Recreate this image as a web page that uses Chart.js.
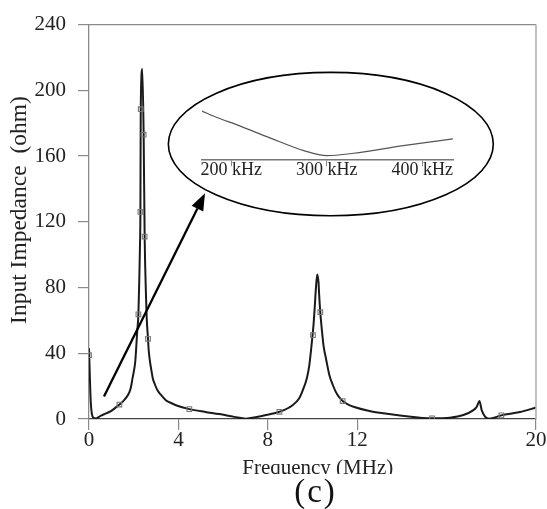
<!DOCTYPE html>
<html><head><meta charset="utf-8">
<script src="https://cdn.jsdelivr.net/npm/chart.js@4/dist/chart.umd.min.js"></script>
<style>
html,body{margin:0;padding:0;background:#fff;}
#wrap{position:relative;width:547px;height:509px;overflow:hidden;background:#fff;}
canvas{position:absolute;left:0;top:0;}
#inset{pointer-events:none;}
#cap{position:absolute;left:89px;top:474px;width:453px;height:35px;background:#fff;text-align:center;font-family:"Liberation Serif";font-size:33px;line-height:34px;color:#111;letter-spacing:2px;}
</style></head><body>
<div id="wrap"><canvas id="main" width="547" height="509" style="width:547px;height:509px"></canvas><canvas id="inset" width="547" height="509" style="width:547px;height:509px"></canvas><div id="cap">(c)</div></div>
<script>
// Main curve: frequency (MHz) and input impedance (ohm)
const freq = [0,0.04,0.08,0.13,0.2,0.3,0.5,0.76,1.0,1.36,1.45,1.6,1.73,1.85,1.9,1.95,2.0,2.07,2.12,2.15,2.21,2.25,2.28,2.30,2.315,2.385,2.445,2.49,2.55,2.58,2.64,2.67,2.70,2.75,2.8,2.85,2.95,3.07,3.2,3.45,3.6,3.89,4.49,5.2,5.83,6.5,7.02,7.5,7.92,8.52,9.11,9.4,9.56,9.75,9.86,10.0,10.05,10.1,10.15,10.21,10.27,10.3,10.35,10.45,10.5,10.6,10.75,10.9,11.1,11.35,11.6,11.87,12.5,13,14,15.35,16.15,16.75,17.2,17.35,17.47,17.57,17.72,17.9,18.45,19.28,20];
const impedance = [43,25,10,3,0.8,0.3,1.8,3.4,5,8.8,9.8,12,14.3,18,21,25,28.5,35,45,52,63.7,85,105,126,188.5,213,173,111,75,62,48.8,42,38,33,29,25,21,17.3,15,11.3,10.2,8.4,6,4.3,3,1.3,0.2,1.2,2.4,4.4,8.4,12.5,17.3,25,33,50.7,58,68,79,88,83,75,64.7,50,44,37,27,21,15,10.9,8.8,7.3,5,3.8,2,0.4,0.8,2.4,5.4,7.5,10.9,5.4,1.4,0.2,2.2,4.2,7.0];
// Square markers on the curve
const markerFreq = [0,1.36,2.21,2.30,2.315,2.445,2.49,2.64,4.49,8.52,10.02,10.35,11.35,15.35,18.45];
const markerImp = [38.8,8.8,63.7,126,188.5,173,111,48.8,6,4.4,51,65,10.9,0.4,2.2];
// Axis ticks
const xTicks = [0,4,8,12,20];
const yTicks = [0,40,80,120,160,200,240];
// Inset (zoom of 200-400 kHz region), relative impedance units
const insetFreq = [169.3,185,206,241,276,300,328,380,432];
const insetVal = [0.89,0.77,0.635,0.39,0.159,0.067,0.111,0.252,0.376];
const insetTicks = [200,300,400];
// Annotation: ellipse (center, radii in data units) and arrow (data units)
const ellipseCenter = [10.82,167.3];
const ellipseRadii = [7.27,43.6];
const arrowFrom = [0.67,13.7];
const arrowTo = [5.19,137.3];

const serif = 'Liberation Serif';

const framePlugin = {
  id:'frame',
  afterDatasetsDraw(chart){
    const {ctx, chartArea:a, scales:{x,y}} = chart;
    ctx.save();
    ctx.strokeStyle = '#8a8a8a'; ctx.lineWidth = 1.2;
    ctx.beginPath(); ctx.moveTo(a.left, a.top); ctx.lineTo(a.right, a.top); ctx.stroke();
    ctx.strokeStyle = '#b0b0b0'; ctx.lineWidth = 1.6;
    ctx.beginPath(); ctx.moveTo(a.right, a.top); ctx.lineTo(a.right, a.bottom); ctx.stroke();
    const cx = x.getPixelForValue(ellipseCenter[0]), cy = y.getPixelForValue(ellipseCenter[1]);
    const rx = x.getPixelForValue(ellipseCenter[0]+ellipseRadii[0]) - cx;
    const ry = cy - y.getPixelForValue(ellipseCenter[1]+ellipseRadii[1]);
    ctx.strokeStyle = '#000'; ctx.lineWidth = 1.6;
    ctx.beginPath(); ctx.ellipse(cx, cy, rx, ry, 0, 0, Math.PI*2); ctx.stroke();
    const x0 = x.getPixelForValue(arrowFrom[0]), y0 = y.getPixelForValue(arrowFrom[1]);
    const x1 = x.getPixelForValue(arrowTo[0]), y1 = y.getPixelForValue(arrowTo[1]);
    const ang = Math.atan2(y1-y0, x1-x0), L = 17, W = 6.5;
    const bx = x1 - L*Math.cos(ang), by = y1 - L*Math.sin(ang);
    ctx.lineWidth = 2.3;
    ctx.beginPath(); ctx.moveTo(x0,y0); ctx.lineTo(bx,by); ctx.stroke();
    ctx.fillStyle = '#000';
    ctx.beginPath();
    ctx.moveTo(x1,y1);
    ctx.lineTo(bx + W*Math.sin(ang), by - W*Math.cos(ang));
    ctx.lineTo(bx - W*Math.sin(ang), by + W*Math.cos(ang));
    ctx.closePath(); ctx.fill();
    ctx.restore();
  }
};

new Chart(document.getElementById('main'), {
  type:'line',
  data:{datasets:[
    {data: markerFreq.map((f,i)=>({x:f,y:markerImp[i]})), showLine:false, pointStyle:'rect', pointRadius:3.3, borderColor:'#777', backgroundColor:'rgba(255,255,255,0)', pointBorderWidth:1.1},
    {data: freq.map((f,i)=>({x:f,y:impedance[i]})), borderColor:'#1a1a1a', borderWidth:2, pointRadius:0, cubicInterpolationMode:'monotone', fill:false}
  ]},
  options:{
    responsive:false, animation:false, devicePixelRatio:1,
    layout:{padding:{left:0,top:17,right:11,bottom:0}},
    plugins:{legend:{display:false}, tooltip:{enabled:false}},
    scales:{
      x:{type:'linear', min:0, max:20,
        afterBuildTicks:s=>{s.ticks = xTicks.map(v=>({value:v}));},
        afterFit:s=>{s.height = 90;},
        ticks:{font:{family:serif,size:21}, color:'#222', padding:-2, maxRotation:0, autoSkip:false},
        grid:{drawOnChartArea:false, drawTicks:true, tickLength:11, color:'#8a8a8a', lineWidth:1.2},
        border:{display:true, color:'#444', width:1.3},
        title:{display:true, text:'  Frequency (MHz)', font:{family:serif,size:21}, color:'#222', padding:{top:0,bottom:28}}
      },
      y:{type:'linear', min:0, max:240,
        afterBuildTicks:s=>{s.ticks = yTicks.map(v=>({value:v}));},
        afterFit:s=>{s.width = 89;},
        ticks:{font:{family:serif,size:21}, color:'#222', padding:12},
        grid:{drawOnChartArea:false, drawTicks:true, tickLength:11, color:'#8a8a8a', lineWidth:1.2},
        border:{display:true, color:'#8a8a8a', width:1.3},
        title:{display:true, text:'    Input Impedance  (ohm)', font:{family:serif,size:23.5}, color:'#222', padding:{top:6,bottom:0}}
      }
    }
  },
  plugins:[framePlugin]
});

new Chart(document.getElementById('inset'), {
  type:'line',
  data:{datasets:[
    {data: insetFreq.map((f,i)=>({x:f,y:insetVal[i]})), borderColor:'#555', borderWidth:1.2, pointRadius:0, cubicInterpolationMode:'monotone', fill:false}
  ]},
  options:{
    responsive:false, animation:false, devicePixelRatio:1,
    layout:{padding:{left:202,right:94,top:105,bottom:0}},
    plugins:{legend:{display:false}, tooltip:{enabled:false}},
    scales:{
      x:{type:'linear', min:169.3, max:432.1,
        afterBuildTicks:s=>{s.ticks = insetTicks.map(v=>({value:v}));},
        afterFit:s=>{s.height = 509-159.3;},
        ticks:{font:{family:serif,size:18}, color:'#222', padding:-7, maxRotation:0, autoSkip:false, callback:v=>v+' kHz'},
        grid:{drawOnChartArea:false, drawTicks:true, tickLength:7, color:'#888', lineWidth:1},
        border:{display:true, color:'#777', width:1.5}
      },
      y:{display:false, min:0, max:1}
    }
  }
});
</script>
</body></html>
